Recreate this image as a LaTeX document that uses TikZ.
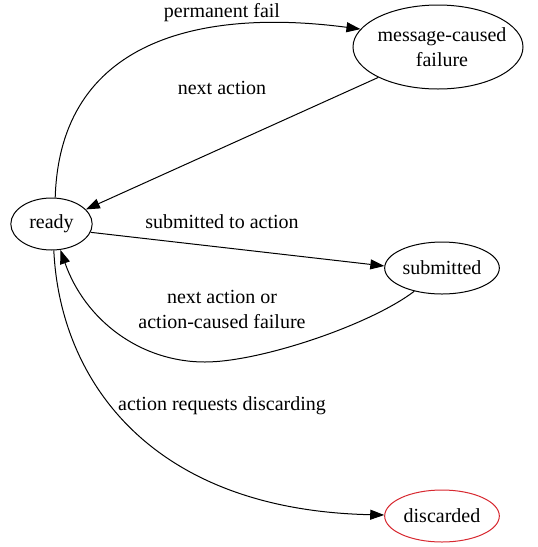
\documentclass[tikz,border=0pt]{standalone}
\usepackage{fontspec}
\setmainfont{Liberation Serif}
\usetikzlibrary{shapes.geometric,arrows.meta}
\definecolor{discred}{RGB}{215,40,48}
\begin{document}
\begin{tikzpicture}[x=0.75pt,y=-0.75pt,
  every node/.style={font=\fontsize{15}{18.5}\selectfont},
  state/.style={ellipse,draw,line width=0.75pt,inner sep=0pt},
  small/.style={state,minimum width=86pt,minimum height=39pt},
  lbl/.style={anchor=base,align=center,inner sep=0pt},
  edge/.style={line width=0.75pt,-{Triangle[length=10.5pt,width=7.5pt]}}]
\useasboundingbox (0,0) rectangle (537,547);
\node[state,minimum width=61pt,minimum height=39pt] (ready) at (51.5,224) {ready};
\node[state,minimum width=127.5pt,minimum height=63pt] (msg) at (438,47) {};
\node[lbl] (msgt) at (442,41) {message-caused};
\node[lbl] (msgt2) at (442,66) {failure};
\node[small] (sub) at (442,268) {submitted};
\node[small,draw=discred] (disc) at (442,516) {discarded};

\draw[edge] (ready.82) .. controls (60,40) and (200,8) .. (msg.167);
\draw[edge] (msg.207) -- (ready.23);
\draw[edge] (ready.-12) -- (sub.178);
\draw[edge] (sub.220) .. controls (370,325) and (260,362) .. (205,362)
  .. controls (140,362) and (85,320) .. (ready.-71);
\draw[edge] (ready.-85) .. controls (60,380) and (150,510) .. (disc.179);

\node[lbl] (l1) at (222,17) {permanent fail};
\node[lbl] (l2) at (222,94) {next action};
\node[lbl] (l3) at (222,228) {submitted to action};
\node[lbl] (l4) at (222,303) {next action or};
\node[lbl] (l5) at (222,328) {action-caused failure};
\node[lbl] (l6) at (222,410) {action requests discarding};
\end{tikzpicture}
\end{document}
